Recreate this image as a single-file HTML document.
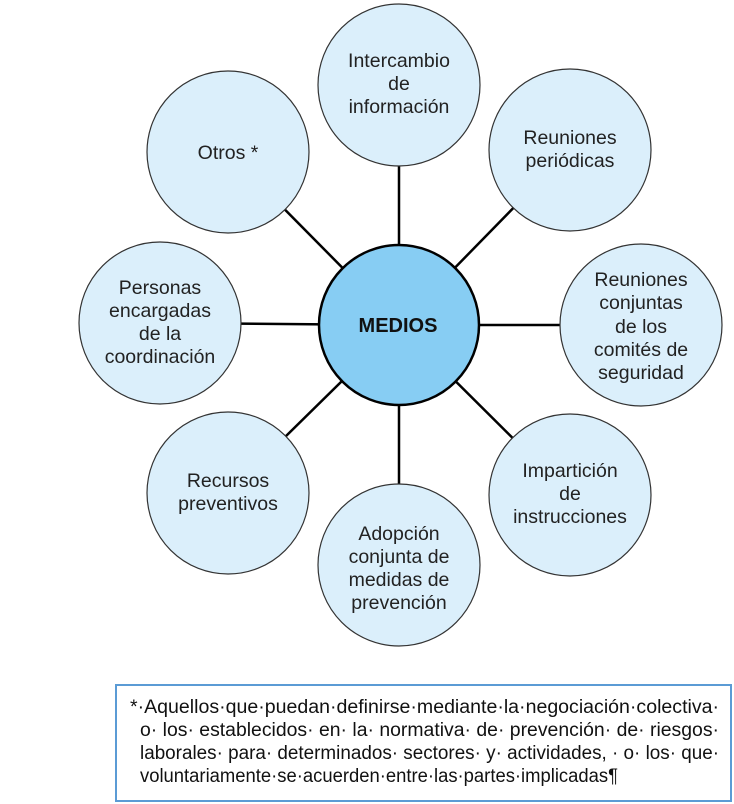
<!DOCTYPE html>
<html><head><meta charset="utf-8"><style>
html,body{margin:0;padding:0;background:#fff;}
svg{display:block;}
text{font-family:"Liberation Sans",Arial,sans-serif;}
</style></head><body>
<svg width="734" height="804" viewBox="0 0 734 804" xmlns="http://www.w3.org/2000/svg">
<g stroke="#000" stroke-width="2.5">
<line x1="399" y1="325" x2="399" y2="85"/>
<line x1="399" y1="325" x2="570" y2="150"/>
<line x1="399" y1="325" x2="641" y2="325"/>
<line x1="399" y1="325" x2="570" y2="495"/>
<line x1="399" y1="325" x2="399" y2="565"/>
<line x1="399" y1="325" x2="228" y2="493"/>
<line x1="399" y1="325" x2="160" y2="323"/>
<line x1="399" y1="325" x2="228" y2="152"/>
</g>
<g fill="#dbeffb" stroke="#333" stroke-width="1.2">
<circle cx="399" cy="85" r="81"/>
<circle cx="570" cy="150" r="81"/>
<circle cx="641" cy="325" r="81"/>
<circle cx="570" cy="495" r="81"/>
<circle cx="399" cy="565" r="81"/>
<circle cx="228" cy="493" r="81"/>
<circle cx="160" cy="323" r="81"/>
<circle cx="228" cy="152" r="81"/>
</g>
<circle cx="399" cy="325" r="80" fill="#87cdf3" stroke="#000" stroke-width="2.5"/>
<text x="398" y="332" text-anchor="middle" font-size="20" font-weight="bold" fill="#111">MEDIOS</text>
<g font-size="19.5" fill="#222" text-anchor="middle">
<text x="399" y="67">Intercambio</text><text x="399" y="90">de</text><text x="399" y="113">información</text>
<text x="570" y="144">Reuniones</text><text x="570" y="167">periódicas</text>
<text x="641" y="286">Reuniones</text><text x="641" y="309">conjuntas</text><text x="641" y="333">de  los</text><text x="641" y="356">comités de</text><text x="641" y="379">seguridad</text>
<text x="570" y="477">Impartición</text><text x="570" y="500">de</text><text x="570" y="523">instrucciones</text>
<text x="399" y="540">Adopción</text><text x="399" y="563">conjunta de</text><text x="399" y="586">medidas de</text><text x="399" y="609">prevención</text>
<text x="228" y="487">Recursos</text><text x="228" y="510">preventivos</text>
<text x="160" y="294">Personas</text><text x="160" y="317">encargadas</text><text x="160" y="340">de la</text><text x="160" y="363">coordinación</text>
<text x="228" y="159">Otros *</text>
</g>
<rect x="116" y="685" width="615" height="116" fill="#fff" stroke="#5b9bd5" stroke-width="2"/>
<g font-size="19" fill="#111">
<text x="130" y="713" textLength="589" lengthAdjust="spacingAndGlyphs">*·Aquellos·que·puedan·definirse·mediante·la·negociación·colectiva·</text>
<text x="140" y="736" textLength="579" lengthAdjust="spacingAndGlyphs">o· los· establecidos· en· la· normativa· de· prevención· de· riesgos·</text>
<text x="140" y="759" textLength="579" lengthAdjust="spacingAndGlyphs">laborales· para· determinados· sectores· y· actividades, · o· los· que·</text>
<text x="140" y="782" textLength="478" lengthAdjust="spacingAndGlyphs">voluntariamente·se·acuerden·entre·las·partes·implicadas¶</text>
</g>
</svg>
</body></html>
